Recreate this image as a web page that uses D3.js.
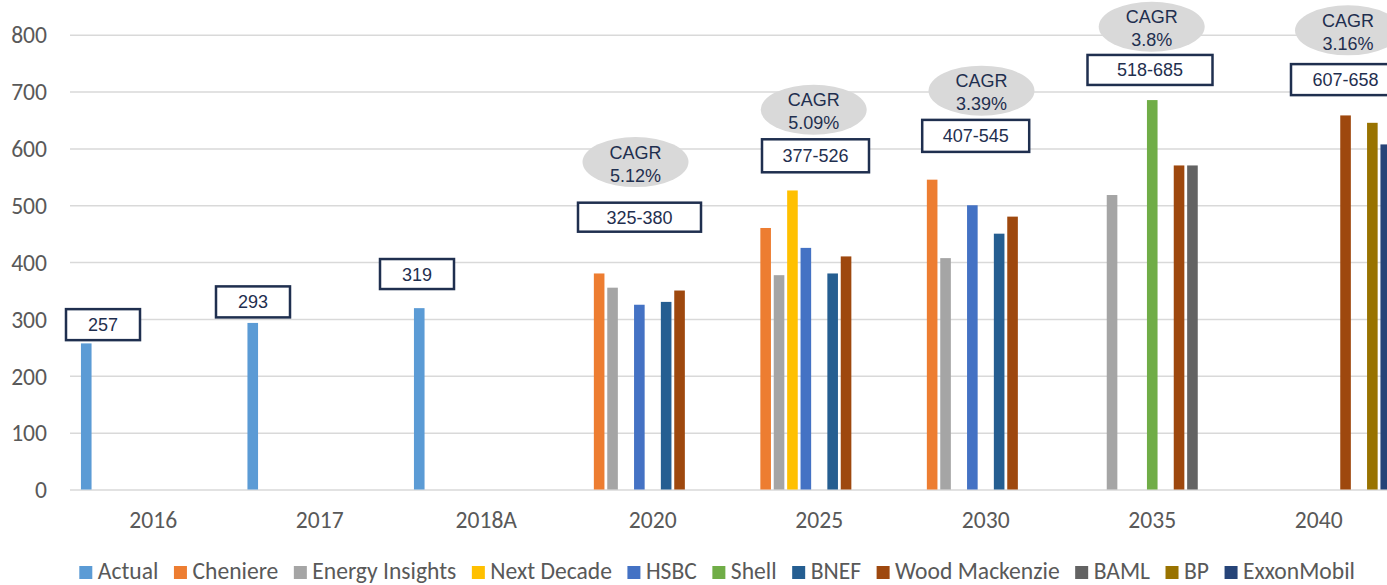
<!DOCTYPE html>
<html><head><meta charset="utf-8">
<script src="https://cdn.jsdelivr.net/npm/d3@7"></script>
<style>
html,body{margin:0;padding:0;background:#fff;overflow:hidden}
svg{display:block}
</style></head><body>
<svg id="chart" width="1387" height="585"></svg>
<script>
// ---------- DATA ----------
const categories = ["2016","2017","2018A","2020","2025","2030","2035","2040"];
const seriesNames = ["Actual","Cheniere","Energy Insights","Next Decade","HSBC","Shell","BNEF","Wood Mackenzie","BAML","BP","ExxonMobil"];
const actual         = [257, 293, 319, null, null, null, null, null];
const cheniere       = [null, null, null, 380, 460, 545, null, null];
const energyInsights = [null, null, null, 355, 377, 407, 518, null];
const nextDecade     = [null, null, null, null, 526, null, null, null];
const hsbc           = [null, null, null, 325, 425, 500, null, null];
const shell          = [null, null, null, null, null, null, 685, null];
const bnef           = [null, null, null, 330, 380, 450, null, null];
const woodMackenzie  = [null, null, null, 350, 410, 480, 570, 658];
const baml           = [null, null, null, null, null, null, 570, null];
const bp             = [null, null, null, null, null, null, null, 645];
const exxonMobil     = [null, null, null, null, null, null, null, 607];
const yTicks = [0,100,200,300,400,500,600,700,800];
const rangeCategories = ["2016","2017","2018A","2020","2025","2030","2035","2040"];
const rangeLabels = ["257","293","319","325-380","377-526","407-545","518-685","607-658"];
const cagrCategories = ["2020","2025","2030","2035","2040"];
const cagrValues = ["5.12%","5.09%","3.39%","3.8%","3.16%"];

// ---------- STYLE / LAYOUT ----------
const seriesValues = [actual,cheniere,energyInsights,nextDecade,hsbc,shell,bnef,woodMackenzie,baml,bp,exxonMobil];
const colors = ["#5B9BD5","#ED7D31","#A5A5A5","#FFC000","#4472C4","#70AD47","#255E91","#9E480E","#636363","#997300","#264478"];
// annotation box layout: x offset within category band (px), y in data units, width, height
const rangeBoxLayout = [
  {dx:33,  yv:290, w:74,  h:31},
  {dx:16.5,yv:330, w:74,  h:31},
  {dx:14,  yv:379, w:74,  h:30},
  {dx:70,  yv:479, w:123, h:29},
  {dx:79.5,yv:587, w:107, h:33},
  {dx:73.2,yv:622, w:107, h:32},
  {dx:81,  yv:738, w:125, h:30},
  {dx:110, yv:721, w:109, h:31}
];
const cagrLayout = [
  {dx:66,   yv:576},
  {dx:77.7, yv:668},
  {dx:79,   yv:701.5},
  {dx:82.7, yv:814},
  {dx:112.5,yv:807.7}
];
const NAVY = "#1F2F4F";
const TXT = "#595959";
const GRID = "#D9D9D9";
const CAL = "Calibri, Carlito, Lato, 'Open Sans', sans-serif";
const ARIAL = "Arial, 'Liberation Sans', Helvetica, sans-serif";

const svg = d3.select("#chart");
const left = 70, band = 166.5;
const x0 = d3.scaleBand().domain(categories).range([left, left + band*categories.length]).padding(0);
const slot = 13.4, groupPad = (band - slot*seriesNames.length)/2;
const x1 = d3.scaleBand().domain(seriesNames)
  .range([groupPad, groupPad + slot*seriesNames.length])
  .paddingInner(0.209).paddingOuter(0.1045);
const y = d3.scaleLinear().domain([0,800]).range([489.5, 34.7]);
const color = d3.scaleOrdinal().domain(seriesNames).range(colors);

// ---- legend font fitting (Calibri substitute) ----
const probe = svg.append("g").attr("font-family", CAL).attr("font-size", 24);
let natural = 0;
seriesNames.forEach(n => { const t = probe.append("text").text(n); natural += t.node().getComputedTextLength(); });
probe.remove();
const targetTextSum = 917;
const fs = Math.max(18, Math.min(26, 24 * targetTextSum / natural));

// ---- gridlines + y axis ----
const yAxis = d3.axisLeft(y).tickValues(yTicks).tickSize(-(band*categories.length)).tickPadding(23);
const gy = svg.append("g").attr("transform", `translate(${left},0)`).call(yAxis);
gy.select(".domain").remove();
gy.selectAll(".tick line").attr("stroke", GRID).attr("stroke-width", 1.5);
gy.selectAll(".tick text").attr("fill", TXT).attr("font-family", CAL).attr("font-size", fs).attr("dy", "0.35em");

// ---- x axis labels ----
const xAxis = d3.axisBottom(x0).tickSize(0).tickPadding(0);
const gx = svg.append("g").attr("transform", `translate(0,${y(0)})`).call(xAxis);
gx.select(".domain").remove();
gx.selectAll(".tick text").attr("fill", TXT).attr("font-family", CAL).attr("font-size", fs)
  .attr("dy", null).attr("y", 528 - y(0));

// ---- bars ----
const groups = svg.append("g").selectAll("g").data(categories).join("g")
  .attr("transform", d => `translate(${x0(d)},0)`);
groups.selectAll("rect")
  .data((c, ci) => seriesNames.map((s, si) => ({s, v: seriesValues[si][ci]})).filter(d => d.v != null))
  .join("rect")
  .attr("x", d => x1(d.s))
  .attr("width", x1.bandwidth())
  .attr("y", d => y(d.v))
  .attr("height", d => y(0) - y(d.v))
  .attr("fill", d => color(d.s));

// ---- CAGR ellipses ----
const cg = svg.append("g").selectAll("g").data(cagrCategories).join("g")
  .attr("transform", (c, i) => `translate(${x0(c) + cagrLayout[i].dx},${y(cagrLayout[i].yv)})`);
cg.append("ellipse").attr("rx", 53).attr("ry", 25).attr("fill", "#D9D9D9");
cg.append("text").attr("text-anchor","middle").attr("y", -3.5).attr("fill", NAVY)
  .attr("font-family", ARIAL).attr("font-size", 18).text("CAGR");
cg.append("text").attr("text-anchor","middle").attr("y", 19.5).attr("fill", NAVY)
  .attr("font-family", ARIAL).attr("font-size", 18).text((c, i) => cagrValues[i]);

// ---- range boxes ----
const rb = svg.append("g").selectAll("g").data(rangeCategories).join("g")
  .attr("transform", (c, i) => `translate(${x0(c) + rangeBoxLayout[i].dx},${y(rangeBoxLayout[i].yv)})`);
rb.append("rect")
  .attr("x", (c, i) => -rangeBoxLayout[i].w/2).attr("y", (c, i) => -rangeBoxLayout[i].h/2)
  .attr("width", (c, i) => rangeBoxLayout[i].w).attr("height", (c, i) => rangeBoxLayout[i].h)
  .attr("fill", "#fff").attr("stroke", NAVY).attr("stroke-width", 2.5);
rb.append("text").attr("text-anchor","middle").attr("y", 6.5).attr("fill", NAVY)
  .attr("font-family", ARIAL).attr("font-size", 18).text((c, i) => rangeLabels[i]);

// ---- legend ----
const lg = svg.append("g").attr("font-family", CAL).attr("font-size", fs);
const items = seriesNames.map(n => {
  const g = lg.append("g");
  g.append("rect").attr("width", 13).attr("height", 13).attr("y", 566).attr("fill", color(n));
  const t = g.append("text").attr("x", 18.5).attr("y", 579).attr("fill", TXT).text(n);
  return {g, w: t.node().getComputedTextLength()};
});
const textSum = d3.sum(items, d => d.w);
const legStart = 79.3, legEnd = 1355;
const gap = (legEnd - legStart - items.length*18.5 - textSum) / (items.length - 1);
let cx = legStart;
items.forEach(it => { it.g.attr("transform", `translate(${cx},0)`); cx += 18.5 + it.w + gap; });
</script>
</body></html>
